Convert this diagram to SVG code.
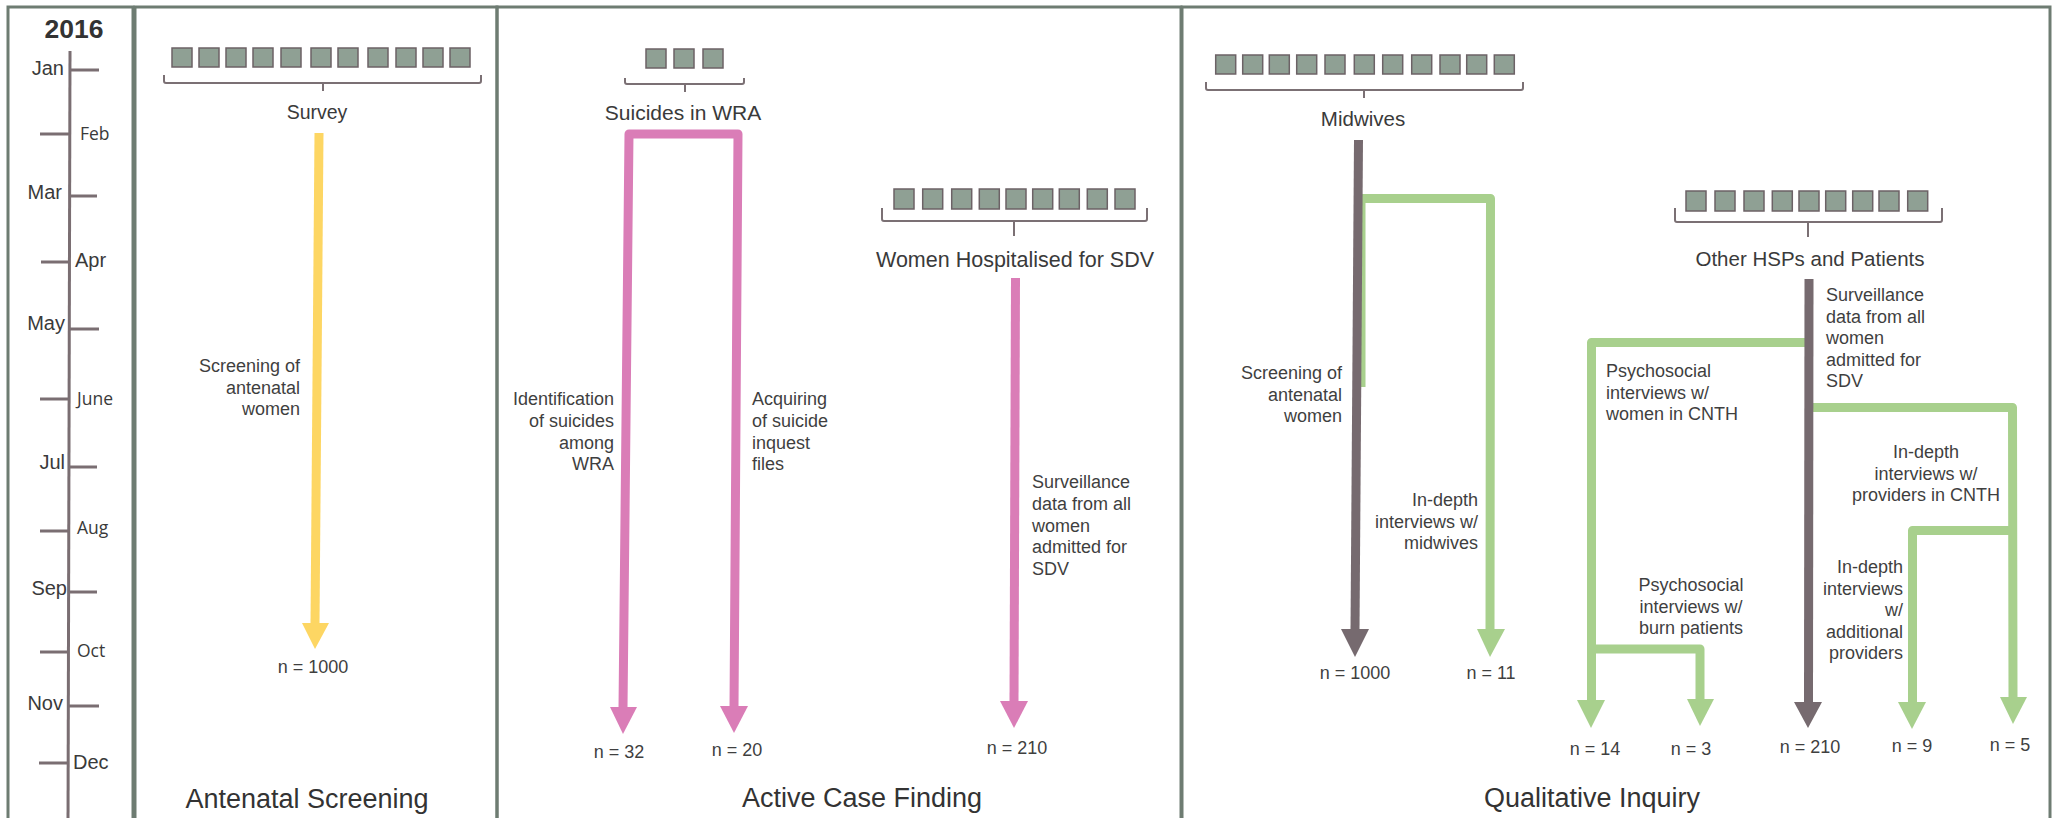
<svg xmlns="http://www.w3.org/2000/svg" width="2060" height="818" viewBox="0 0 2060 818">
<style>
.panel{fill:none;stroke:#6e7c72;stroke-width:3}
.tl{stroke:#7a6e72;stroke-width:3;fill:none}
.m{font-family:"Liberation Sans",Arial,sans-serif;font-size:20px;fill:#3a3a3a}
.m2{font-family:"Open Sans","Liberation Sans",sans-serif;font-size:17.5px;fill:#3a3a3a}
.sq{fill:#8fa094;stroke:#6c6266;stroke-width:1.5}
.br{fill:none;stroke:#7b7074;stroke-width:2}
.hd{font-family:"Liberation Sans",Arial,sans-serif;font-size:20.5px;fill:#3a3a3a;text-anchor:middle}
.lb{font-family:"Liberation Sans",Arial,sans-serif;font-size:18px;fill:#3f3f3f}
.n{font-family:"Liberation Sans",Arial,sans-serif;font-size:18px;fill:#3f3f3f;text-anchor:middle}
.ti{font-family:"Liberation Sans",Arial,sans-serif;font-size:27px;fill:#333;text-anchor:middle}
.y{stroke:#fdd663;stroke-width:9;fill:none}
.yh{fill:#fdd663}
.p{stroke:#da7db7;stroke-width:9;fill:none;stroke-linejoin:round}
.ph{fill:#da7db7}
.g{stroke:#a8d08d;stroke-width:9;fill:none;stroke-linejoin:round}
.gh{fill:#a8d08d}
.k{stroke:#766a6f;stroke-width:9;fill:none}
.kh{fill:#766a6f}
</style>

<g id="frames">
<rect class="panel" x="8" y="7" width="125" height="830"/>
<rect class="panel" x="135" y="7" width="362" height="830"/>
<rect class="panel" x="497" y="7" width="684" height="830"/>
<rect class="panel" x="1182" y="7" width="868" height="830"/>
</g>

<g id="timeline">
<text x="74" y="38" text-anchor="middle" style="font-family:'Liberation Sans',Arial,sans-serif;font-size:26.5px;font-weight:bold;fill:#333">2016</text>
<path class="tl" d="M70 51 L68 830"/>
<path class="tl" d="M70 70H99 M40 134H70 M70 196H97 M41 262H70 M70 329H99 M40 399H70 M69 467H97 M40 531H69 M69 592H97 M40 652H69 M69 706H99 M39 763H68"/>
<text class="m" x="64" y="75" text-anchor="end">Jan</text>
<text class="m2" x="80" y="140">Feb</text>
<text class="m" x="62" y="199" text-anchor="end">Mar</text>
<text class="m" x="75" y="267">Apr</text>
<text class="m" x="65" y="330" text-anchor="end">May</text>
<text class="m2" x="77" y="405">June</text>
<text class="m" x="65" y="469" text-anchor="end">Jul</text>
<text class="m2" x="77" y="534">Aug</text>
<text class="m" x="67" y="595" text-anchor="end">Sep</text>
<text class="m2" x="77" y="657">Oct</text>
<text class="m" x="63" y="710" text-anchor="end">Nov</text>
<text class="m" x="73" y="769">Dec</text>
</g>

<g id="survey">
<rect class="sq" x="172" y="48" width="20" height="19"/>
<rect class="sq" x="199" y="48" width="20" height="19"/>
<rect class="sq" x="226" y="48" width="20" height="19"/>
<rect class="sq" x="253" y="48" width="20" height="19"/>
<rect class="sq" x="281" y="48" width="20" height="19"/>
<rect class="sq" x="311" y="48" width="20" height="19"/>
<rect class="sq" x="338" y="48" width="20" height="19"/>
<rect class="sq" x="368" y="48" width="20" height="19"/>
<rect class="sq" x="396" y="48" width="20" height="19"/>
<rect class="sq" x="423" y="48" width="20" height="19"/>
<rect class="sq" x="450" y="48" width="20" height="19"/>
<path class="br" d="M164 75V81Q164 83 166 83H479Q481 83 481 81V75M323 83V91"/>
<text class="hd" x="317" y="119" style="font-size:19.5px">Survey</text>
</g>

<g id="suicides">
<rect class="sq" x="646" y="49" width="20" height="19"/>
<rect class="sq" x="674" y="49" width="20" height="19"/>
<rect class="sq" x="703" y="49" width="20" height="19"/>
<path class="br" d="M625 78V82Q625 84 627 84H742Q744 84 744 82V78M685 84V92"/>
<text class="hd" x="683" y="120" style="font-size:21px">Suicides in WRA</text>
</g>

<g id="hospitalised">
<rect class="sq" x="894" y="189" width="20" height="20"/>
<rect class="sq" x="922.7" y="189" width="20" height="20"/>
<rect class="sq" x="951.7" y="189" width="20" height="20"/>
<rect class="sq" x="979.3" y="189" width="20" height="20"/>
<rect class="sq" x="1006" y="189" width="20" height="20"/>
<rect class="sq" x="1032.7" y="189" width="20" height="20"/>
<rect class="sq" x="1059.3" y="189" width="20" height="20"/>
<rect class="sq" x="1087.3" y="189" width="20" height="20"/>
<rect class="sq" x="1115" y="189" width="20" height="20"/>
<path class="br" d="M882 208V219Q882 221 884 221H1145Q1147 221 1147 219V208M1014 221V236"/>
<text class="hd" x="1015" y="267" style="font-size:21.5px">Women Hospitalised for SDV</text>
</g>

<g id="midwives">
<rect class="sq" x="1215.7" y="55" width="20" height="19"/>
<rect class="sq" x="1242.7" y="55" width="20" height="19"/>
<rect class="sq" x="1269.3" y="55" width="20" height="19"/>
<rect class="sq" x="1296.7" y="55" width="20" height="19"/>
<rect class="sq" x="1325" y="55" width="20" height="19"/>
<rect class="sq" x="1354.3" y="55" width="20" height="19"/>
<rect class="sq" x="1382.7" y="55" width="20" height="19"/>
<rect class="sq" x="1411.7" y="55" width="20" height="19"/>
<rect class="sq" x="1440" y="55" width="20" height="19"/>
<rect class="sq" x="1466.7" y="55" width="20" height="19"/>
<rect class="sq" x="1494.3" y="55" width="20" height="19"/>
<path class="br" d="M1206 82V88Q1206 90 1208 90H1521Q1523 90 1523 88V82M1364 90V98"/>
<text class="hd" x="1363" y="126">Midwives</text>
</g>

<g id="other-hsps">
<rect class="sq" x="1686" y="191" width="20" height="20"/>
<rect class="sq" x="1715" y="191" width="20" height="20"/>
<rect class="sq" x="1744" y="191" width="20" height="20"/>
<rect class="sq" x="1772.3" y="191" width="20" height="20"/>
<rect class="sq" x="1799" y="191" width="20" height="20"/>
<rect class="sq" x="1825.7" y="191" width="20" height="20"/>
<rect class="sq" x="1852.7" y="191" width="20" height="20"/>
<rect class="sq" x="1879" y="191" width="20" height="20"/>
<rect class="sq" x="1907.7" y="191" width="20" height="20"/>
<path class="br" d="M1675 208V220Q1675 222 1677 222H1940Q1942 222 1942 220V208M1808 222V237"/>
<text class="hd" x="1810" y="266">Other HSPs and Patients</text>
</g>

<g id="connectors">
<path class="y" d="M319 133L315 624"/>
<polygon class="yh" points="302,623 329,623 315,649"/>

<path class="p" d="M623 708L629 134L738 134L734 707"/>
<polygon class="ph" points="610,707 637,707 623,734"/>
<polygon class="ph" points="720,706 748,706 734,733"/>
<path class="p" d="M1015.5 278L1014 702"/>
<polygon class="ph" points="1000,701 1028,701 1014,728"/>

<path class="g" d="M1361 387L1361 198.5L1490.5 198.5L1490 630"/>
<polygon class="gh" points="1477,629 1505,629 1490,657"/>
<path class="g" d="M1809 342.5L1591.5 342.5L1591.5 701"/>
<polygon class="gh" points="1577,700 1605,700 1591,728"/>
<path class="g" d="M1591.5 649L1700 649L1700 700"/>
<polygon class="gh" points="1687,699 1714,699 1700,726"/>
<path class="g" d="M1809 407.5L2012.5 407.5L2013 698"/>
<polygon class="gh" points="2000,697 2027,697 2013,724"/>
<path class="g" d="M2012.5 530.5L1912.5 530.5L1912.5 703"/>
<polygon class="gh" points="1898,702 1926,702 1912,729"/>

<path class="k" d="M1358.5 140L1355 630"/>
<polygon class="kh" points="1341,629 1369,629 1355,657"/>
<path class="k" d="M1809 279L1808.5 703"/>
<polygon class="kh" points="1794,702 1822,702 1808,728"/>
</g>

<g id="labels">
<text class="lb" text-anchor="end"><tspan x="300" y="372">Screening of</tspan><tspan x="300" y="393.5">antenatal</tspan><tspan x="300" y="415">women</tspan></text>
<text class="n" x="313" y="673">n = 1000</text>

<text class="lb" text-anchor="end"><tspan x="614" y="405">Identification</tspan><tspan x="614" y="427">of suicides</tspan><tspan x="614" y="448.5">among</tspan><tspan x="614" y="470">WRA</tspan></text>
<text class="lb"><tspan x="752" y="405">Acquiring</tspan><tspan x="752" y="427">of suicide</tspan><tspan x="752" y="448.5">inquest</tspan><tspan x="752" y="470">files</tspan></text>
<text class="lb"><tspan x="1032" y="488">Surveillance</tspan><tspan x="1032" y="510">data from all</tspan><tspan x="1032" y="531.5">women</tspan><tspan x="1032" y="553">admitted for</tspan><tspan x="1032" y="575">SDV</tspan></text>
<text class="n" x="619" y="758">n = 32</text>
<text class="n" x="737" y="756">n = 20</text>
<text class="n" x="1017" y="754">n = 210</text>

<text class="lb" text-anchor="end"><tspan x="1342" y="379">Screening of</tspan><tspan x="1342" y="400.5">antenatal</tspan><tspan x="1342" y="422">women</tspan></text>
<text class="lb" text-anchor="end"><tspan x="1478" y="506">In-depth</tspan><tspan x="1478" y="527.5">interviews w/</tspan><tspan x="1478" y="549">midwives</tspan></text>
<text class="lb"><tspan x="1826" y="301">Surveillance</tspan><tspan x="1826" y="322.5">data from all</tspan><tspan x="1826" y="344">women</tspan><tspan x="1826" y="365.5">admitted for</tspan><tspan x="1826" y="387">SDV</tspan></text>
<text class="lb"><tspan x="1606" y="377">Psychosocial</tspan><tspan x="1606" y="398.5">interviews w/</tspan><tspan x="1606" y="420">women in CNTH</tspan></text>
<text class="lb" text-anchor="middle"><tspan x="1926" y="458">In-depth</tspan><tspan x="1926" y="479.5">interviews w/</tspan><tspan x="1926" y="501">providers in CNTH</tspan></text>
<text class="lb" text-anchor="middle"><tspan x="1691" y="591">Psychosocial</tspan><tspan x="1691" y="612.5">interviews w/</tspan><tspan x="1691" y="634">burn patients</tspan></text>
<text class="lb" text-anchor="end"><tspan x="1903" y="573">In-depth</tspan><tspan x="1903" y="594.5">interviews</tspan><tspan x="1903" y="616">w/</tspan><tspan x="1903" y="637.5">additional</tspan><tspan x="1903" y="659">providers</tspan></text>
<text class="n" x="1355" y="679">n = 1000</text>
<text class="n" x="1491" y="679">n = 11</text>
<text class="n" x="1595" y="755">n = 14</text>
<text class="n" x="1691" y="755">n = 3</text>
<text class="n" x="1810" y="753">n = 210</text>
<text class="n" x="1912" y="752">n = 9</text>
<text class="n" x="2010" y="751">n = 5</text>
</g>

<g id="titles">
<text class="ti" x="307" y="808">Antenatal Screening</text>
<text class="ti" x="862" y="807">Active Case Finding</text>
<text class="ti" x="1592" y="807">Qualitative Inquiry</text>
</g>
</svg>
